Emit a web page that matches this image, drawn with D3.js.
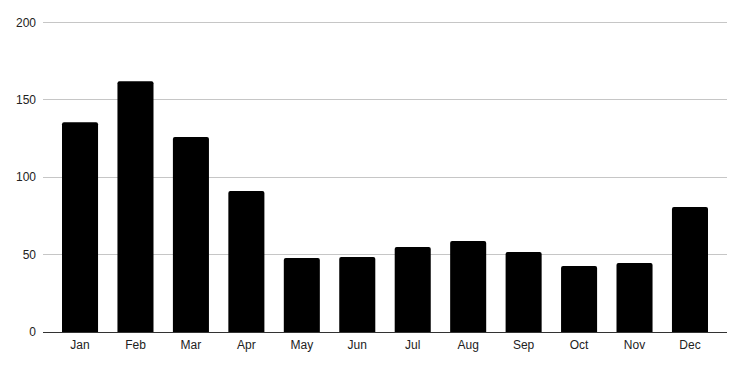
<!DOCTYPE html>
<html><head><meta charset="utf-8">
<script src="https://cdn.jsdelivr.net/npm/d3@7"></script>
<style>body{margin:0;background:#fff;}text{font-family:"Liberation Sans",Arial,sans-serif;}</style>
</head><body>
<svg id="c" width="743" height="367"></svg>
<script>
const months = ["Jan","Feb","Mar","Apr","May","Jun","Jul","Aug","Sep","Oct","Nov","Dec"];
const values = [135.5,162,126,91,47.8,48.4,54.9,58.8,51.7,42.6,44.6,80.7];
const yTicks = [0,50,100,150,200];

const svg = d3.select("#c");
const x = d3.scaleBand().domain(months).range([52.3,717.7]).paddingInner(0.35).paddingOuter(0.175);
const y = d3.scaleLinear().domain([0,200]).range([332,22.3]);

// gridlines
svg.append("g").selectAll("line").data(yTicks.filter(d=>d>0)).join("line")
  .attr("x1",43).attr("x2",727).attr("y1",d=>y(d)).attr("y2",d=>y(d))
  .attr("stroke","#c6c6c6").attr("stroke-width",1).attr("shape-rendering","crispEdges");

// y labels
svg.append("g").selectAll("text").data(yTicks).join("text")
  .attr("x",36).attr("y",d=>y(d)).attr("dy","0.35em").attr("text-anchor","end")
  .attr("font-size",12).attr("fill","#222").text(d=>d);

// bars with rounded top corners
const r = 2;
svg.append("g").selectAll("path").data(months).join("path")
  .attr("fill","#000")
  .attr("d",(m,i)=>{
    const x0 = x(m), w = x.bandwidth(), y0 = y(values[i]), yb = y(0);
    return `M${x0},${yb}V${y0+r}Q${x0},${y0} ${x0+r},${y0}H${x0+w-r}Q${x0+w},${y0} ${x0+w},${y0+r}V${yb}Z`;
  });

// baseline
svg.append("line").attr("x1",43).attr("x2",727).attr("y1",332.5).attr("y2",332.5)
  .attr("stroke","#333").attr("stroke-width",1);

// x labels
svg.append("g").selectAll("text").data(months).join("text")
  .attr("x",m=>x(m)+x.bandwidth()/2).attr("y",349).attr("text-anchor","middle")
  .attr("font-size",12).attr("fill","#222").text(m=>m);
</script>
</body></html>
